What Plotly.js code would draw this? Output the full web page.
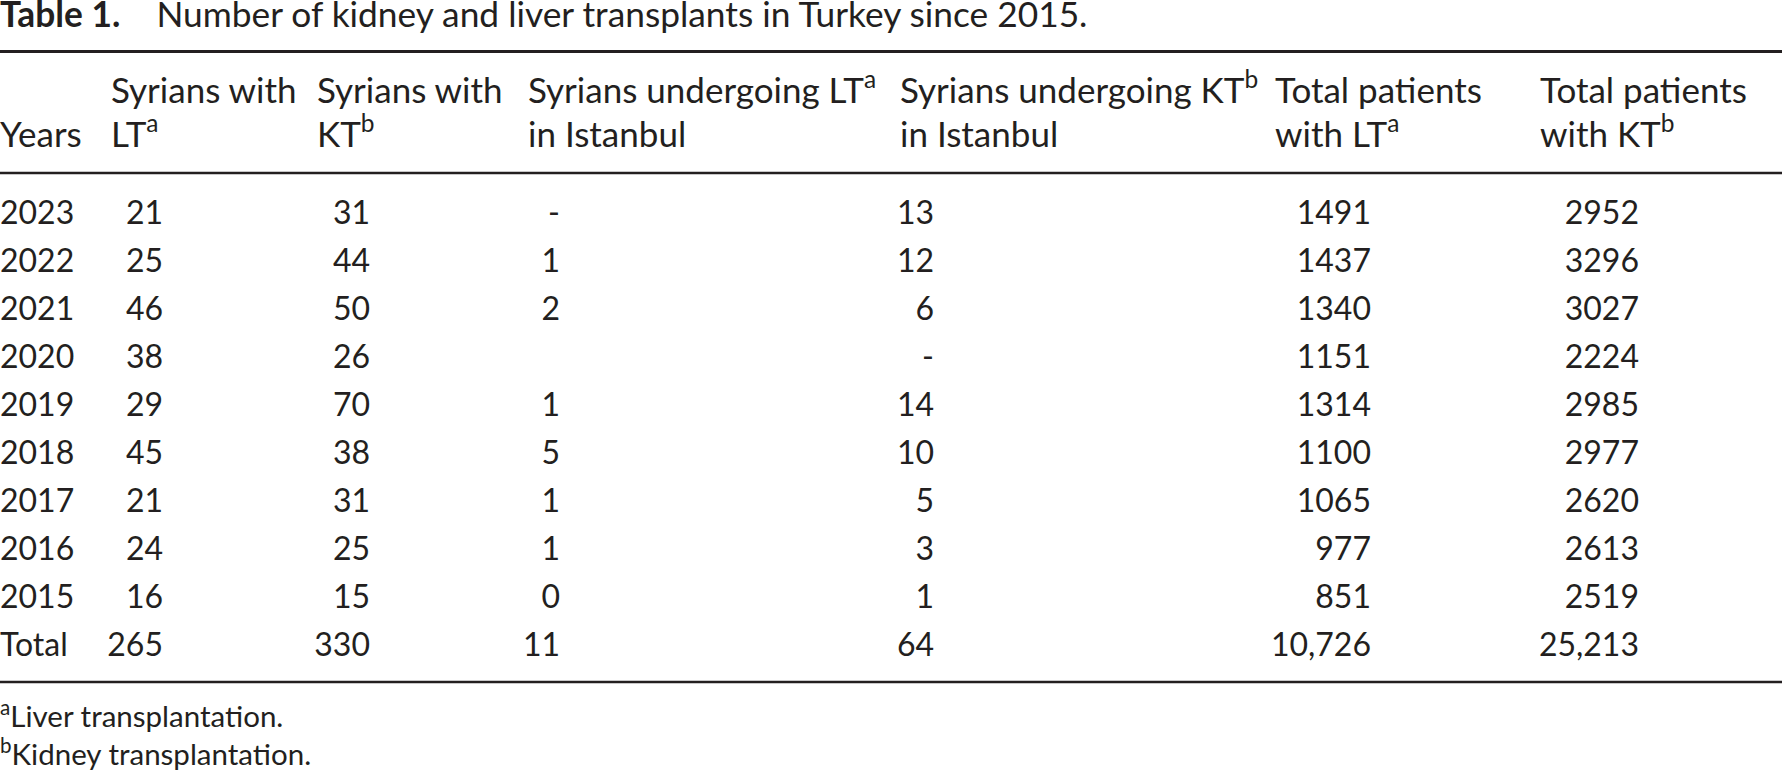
<!DOCTYPE html>
<html><head><meta charset="utf-8">
<script src="https://cdn.plot.ly/plotly-3.0.1.min.js"></script>
<style>html,body{margin:0;padding:0;background:#fff;overflow:hidden}#chart{width:1782px;height:777px}</style>
</head><body><div id="chart"></div>
<script>
// ---------------- data ----------------
const years = ['2023','2022','2021','2020','2019','2018','2017','2016','2015','Total'];
const syriansLT = ['21','25','46','38','29','45','21','24','16','265'];
const syriansKT = ['31','44','50','26','70','38','31','25','15','330'];
const syriansLTIstanbul = ['-','1','2','','1','5','1','1','0','11'];
const syriansKTIstanbul = ['13','12','6','-','14','10','5','3','1','64'];
const totalLT = ['1491','1437','1340','1151','1314','1100','1065','977','851','10,726'];
const totalKT = ['2952','3296','3027','2224','2985','2977','2620','2613','2519','25,213'];
const headerLine1 = ['Syrians with', 'Syrians with', 'Syrians undergoing LT<sup>a</sup>', 'Syrians undergoing KT<sup>b</sup>', 'Total patients', 'Total patients'];
const headerLine2 = ['Years', 'LT<sup>a</sup>', 'KT<sup>b</sup>', 'in Istanbul', 'in Istanbul', 'with LT<sup>a</sup>', 'with KT<sup>b</sup>'];
const titleText = '<b>Table 1.</b>\u00a0\u00a0\u00a0 Number of kidney and liver transplants in Turkey since 2015.';
const footnotes = ['<sup>a</sup>Liver transplantation.', '<sup>b</sup>Kidney transplantation.'];

// ---------------- layout constants ----------------
const W = 1782, H = 777;
const FS = 32, FS_HEAD = 35, FS_TITLE = 35.3, FS_FOOT = 29.5;
const FONT = 'Lato, "Open Sans", sans-serif';
const INK = '#231f20';
const ROW_PITCH = 48, ROW0_BASELINE = 224;
const HEADER_BASELINES = [103, 147];
const FOOT_BASELINES = [727, 765];
const TITLE_BASELINE = 26.7;
const COL_LEFT = [0, 111, 317, 528, 900, 1275, 1540];
const COL_RIGHT = [0, 163, 370, 560, 934, 1371, 1639];
const RULES = [{y: 51.5, w: 2.8}, {y: 173, w: 2.6}, {y: 682, w: 2.6}];

const columns = [years, syriansLT, syriansKT, syriansLTIstanbul, syriansKTIstanbul, totalLT, totalKT];
const rowIdx = years.map((_, i) => i);
const fontOf = (size) => ({family: FONT, size: size, color: INK});

// axis mapping: a 'middle' text at axis value v has its baseline at
// px = ROW0_BASELINE + v*ROW_PITCH - 0.25*FS + 0.25*size
const base = (b, size) => (b - ROW0_BASELINE - 0.25 * (size - FS)) / ROW_PITCH;

const traces = [];
columns.forEach((col, c) => {
  traces.push({
    type: 'scatter', mode: 'text', cliponaxis: false, hoverinfo: 'skip',
    x: col.map(() => c === 0 ? COL_LEFT[0] : COL_RIGHT[c]),
    y: rowIdx,
    text: col,
    textposition: c === 0 ? 'middle right' : 'middle left',
    textfont: fontOf(FS), showlegend: false
  });
});
traces.push({
  type: 'scatter', mode: 'text', cliponaxis: false, hoverinfo: 'skip',
  x: COL_LEFT.slice(1), y: headerLine1.map(() => base(HEADER_BASELINES[0], FS_HEAD)),
  text: headerLine1, textposition: 'middle right', textfont: fontOf(FS_HEAD), showlegend: false
});
traces.push({
  type: 'scatter', mode: 'text', cliponaxis: false, hoverinfo: 'skip',
  x: COL_LEFT, y: headerLine2.map(() => base(HEADER_BASELINES[1], FS_HEAD)),
  text: headerLine2, textposition: 'middle right', textfont: fontOf(FS_HEAD), showlegend: false
});
traces.push({
  type: 'scatter', mode: 'text', cliponaxis: false, hoverinfo: 'skip',
  x: footnotes.map(() => 0), y: FOOT_BASELINES.map(b => base(b, FS_FOOT)),
  text: footnotes, textposition: 'middle right', textfont: fontOf(FS_FOOT), showlegend: false
});

const off = 0.25 * FS;
const yTop = -(ROW0_BASELINE - off) / ROW_PITCH;
const yBot = (H - ROW0_BASELINE + off) / ROW_PITCH;

const layout = {
  width: W, height: H, autosize: false,
  margin: {l: 0, r: 0, t: 0, b: 0, pad: 0},
  paper_bgcolor: '#ffffff', plot_bgcolor: '#ffffff',
  showlegend: false, hovermode: false,
  font: fontOf(FS),
  title: {
    text: titleText, font: fontOf(FS_TITLE),
    x: 0, xref: 'container', xanchor: 'left',
    y: 1 - (TITLE_BASELINE - 0.35 * FS_TITLE) / H, yref: 'container', yanchor: 'middle',
    pad: {t: 0, b: 0, l: 0, r: 0}
  },
  xaxis: {range: [0, W], visible: false, fixedrange: true},
  yaxis: {range: [yBot, yTop], visible: false, fixedrange: true},
  shapes: RULES.map(r => ({
    type: 'line', xref: 'paper', yref: 'paper', x0: 0, x1: 1,
    y0: 1 - r.y / H, y1: 1 - r.y / H, line: {color: INK, width: r.w}
  }))
};

Plotly.newPlot('chart', traces, layout, {staticPlot: true, displayModeBar: false, responsive: false});
</script>
</body></html>
